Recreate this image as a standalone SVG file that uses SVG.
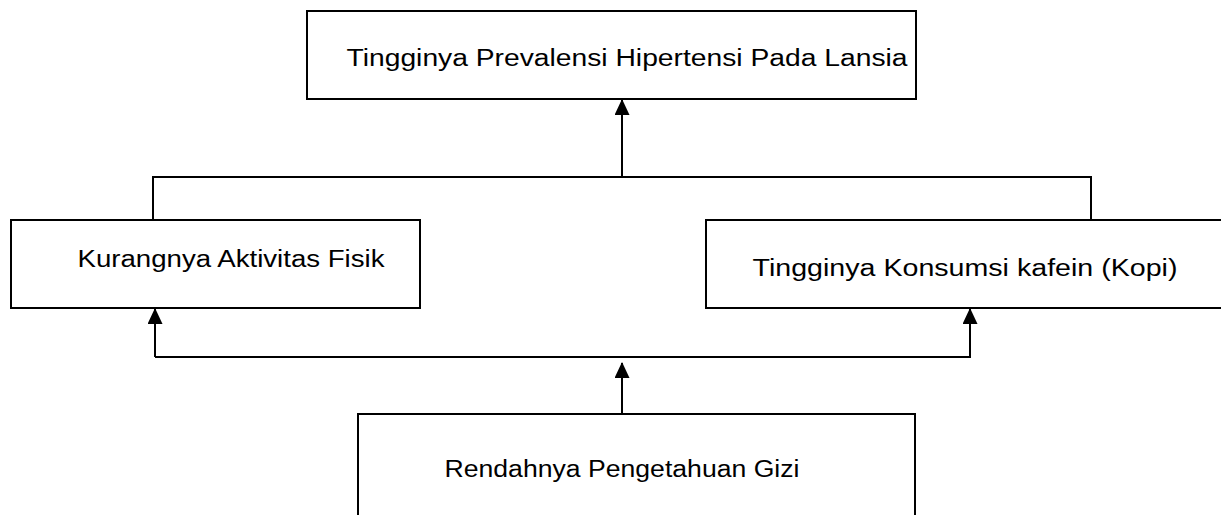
<svg xmlns="http://www.w3.org/2000/svg" width="1221" height="515" viewBox="0 0 1221 515">
<style>
.box{fill:#fff;stroke:#000;stroke-width:2}
.lbl{font-family:"Liberation Sans",Arial,sans-serif;font-size:23px;fill:#000}
.con{fill:none;stroke:#000;stroke-width:2}
</style>
<defs>
<marker id="ah" markerWidth="16" markerHeight="15" refX="15" refY="7.5" orient="auto" markerUnits="userSpaceOnUse" viewBox="0 0 16 15">
<path d="M0,0 L16,7.5 L0,15 Z" fill="#000"/>
</marker>
</defs>
<g id="connectors">
<path class="con" d="M153,220 V177 H1091 V220"/>
<path class="con" d="M622,177 V100" marker-end="url(#ah)"/>
<path class="con" d="M155,357 H970 V309" marker-end="url(#ah)"/>
<path class="con" d="M155,357 V309" marker-end="url(#ah)"/>
<path class="con" d="M622,413 V363" marker-end="url(#ah)"/>
</g>
<g id="n-top">
<rect class="box" x="307" y="11" width="609" height="88"/>
<text class="lbl" x="627" y="66" text-anchor="middle" textLength="561" lengthAdjust="spacingAndGlyphs">Tingginya Prevalensi Hipertensi Pada Lansia</text>
</g>
<g id="n-left">
<rect class="box" x="11" y="220" width="409" height="88"/>
<text class="lbl" x="231" y="267" text-anchor="middle" textLength="307" lengthAdjust="spacingAndGlyphs">Kurangnya Aktivitas Fisik</text>
</g>
<g id="n-right">
<rect class="box" x="706" y="220" width="525" height="88"/>
<text class="lbl" x="965" y="276" text-anchor="middle" textLength="425" lengthAdjust="spacingAndGlyphs">Tingginya Konsumsi kafein (Kopi)</text>
</g>
<g id="n-bottom">
<rect class="box" x="358" y="414" width="557" height="120"/>
<text class="lbl" x="622" y="477" text-anchor="middle" textLength="355" lengthAdjust="spacingAndGlyphs">Rendahnya Pengetahuan Gizi</text>
</g>
</svg>
